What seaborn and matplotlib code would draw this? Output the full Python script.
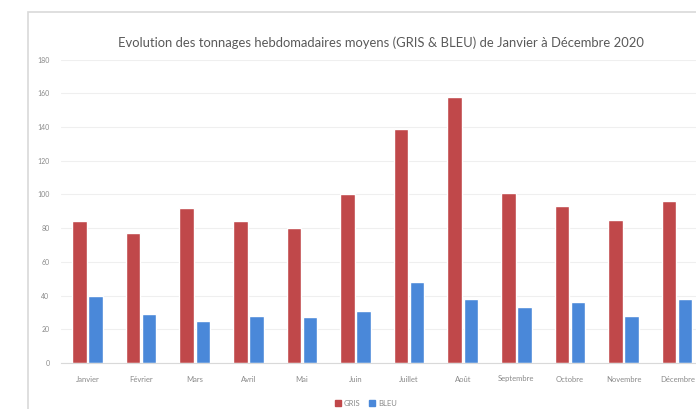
import numpy as np
import pandas as pd
import matplotlib.pyplot as plt
import seaborn as sns
from matplotlib.patches import Rectangle, Patch

mois = ['Janvier', 'Février', 'Mars', 'Avril', 'Mai', 'Juin', 'Juillet',
        'Août', 'Septembre', 'Octobre', 'Novembre', 'Décembre']
gris = [84, 77, 92, 84.5, 80, 100, 139, 158, 101, 93, 85, 96]
bleu = [40, 29, 25, 28, 27, 31, 48, 38, 33.5, 36, 28, 38]
y_ticks = [0, 20, 40, 60, 80, 100, 120, 140, 160, 180]

df = pd.DataFrame({'mois': mois * 2,
                   'tonnage': gris + bleu,
                   'type': ['GRIS'] * 12 + ['BLEU'] * 12})
couleurs = {'GRIS': '#C0484A', 'BLEU': '#4A88D9'}

sns.set_style('white')
plt.rcParams['font.family'] = ['Lato', 'DejaVu Sans']

fig = plt.figure(figsize=(6.96, 4.09), dpi=100)
ax = fig.add_axes([60.7 / 696, 1 - 363 / 409, 643.3 / 696, (363 - 59.5) / 409])

sns.barplot(data=df, x='mois', y='tonnage', hue='type', order=mois,
            hue_order=['GRIS', 'BLEU'], palette=couleurs, width=0.6, gap=0.1,
            saturation=1, ax=ax, legend=False)

ax.set_ylim(0, 180)
ax.set_yticks(y_ticks)
ax.set_yticklabels([str(v) for v in y_ticks])
ax.set_xlim(-0.5, 11.5)
ax.set_xlabel('')
ax.set_ylabel('')
ax.grid(axis='y', color='#efefef', linewidth=0.8)
ax.set_axisbelow(True)
for s in ['top', 'right', 'left']:
    ax.spines[s].set_visible(False)
ax.spines['bottom'].set_color('#d9d9d9')
ax.spines['bottom'].set_linewidth(0.8)
ax.tick_params(axis='y', length=0, labelsize=5, labelcolor='#8a8a8a', pad=8)
ax.tick_params(axis='x', length=0, labelsize=5.5, labelcolor='#8a8a8a', pad=9)

fig.text(381 / 696, 1 - 43 / 409,
         'Evolution des tonnages hebdomadaires moyens (GRIS & BLEU) de Janvier à Décembre 2020',
         ha='center', va='center', fontsize=9.4, color='#595959')

handles = [Patch(color=couleurs['GRIS'], label='GRIS'),
           Patch(color=couleurs['BLEU'], label='BLEU')]
fig.legend(handles=handles, loc='center', bbox_to_anchor=(366 / 696, 1 - 403 / 409),
           ncol=2, frameon=False, fontsize=5.5, handlelength=0.7, handleheight=0.7,
           handletextpad=0.4, columnspacing=1.2, labelcolor='#8a8a8a')

fig.patches.append(Rectangle((28 / 696, -0.05), 1.1, 1 - 12 / 409 + 0.05,
                             transform=fig.transFigure, fill=False,
                             edgecolor='#d9d9d9', linewidth=1.2, zorder=0))

fig.savefig('out.png', dpi=100)
